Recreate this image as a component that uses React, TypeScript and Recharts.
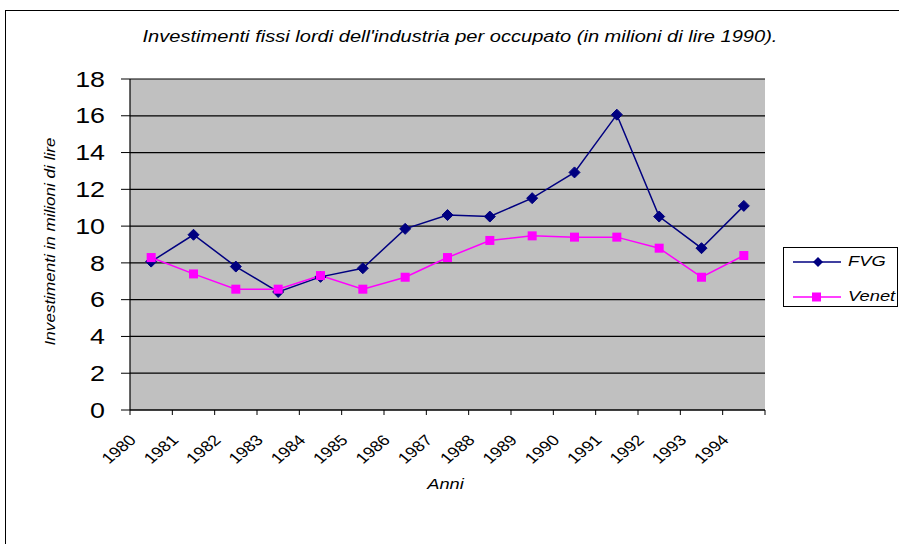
import React from "react";
import {
  LineChart,
  Line,
  XAxis,
  YAxis,
  CartesianGrid,
} from "recharts";

// anni e valori (milioni di lire 1990)
const years = [1980, 1981, 1982, 1983, 1984, 1985, 1986, 1987, 1988, 1989, 1990, 1991, 1992, 1993, 1994];
const fvg = [8.07, 9.53, 7.8, 6.42, 7.24, 7.71, 9.85, 10.6, 10.52, 11.52, 12.92, 16.06, 10.52, 8.8, 11.1];
const venet = [8.29, 7.4, 6.57, 6.57, 7.31, 6.57, 7.22, 8.29, 9.22, 9.47, 9.4, 9.4, 8.8, 7.22, 8.4];
const yTicks = [0, 2, 4, 6, 8, 10, 12, 14, 16, 18];

const FONT = "'Liberation Sans', Arial, sans-serif";
const NAVY = "#000080";
const MAGENTA = "#FF00FF";
// the original's text is drawn wider than Arial, so stretch it a bit
const STRETCH = 1.22;

const W = 899;
const H = 544;
const margin = { top: 79, right: 134, bottom: 54, left: 70 };
const yAxisWidth = 60;
const xAxisHeight = 80;
const band = (W - margin.left - yAxisWidth - margin.right) / years.length;

// numeric x axis so the tick marks sit on the category boundaries
const data = years.map((y, i) => ({
  x: i + 0.5,
  year: y,
  FVG: fvg[i],
  Venet: venet[i],
}));
const boundaryTicks = years.map((_, i) => i).concat(years.length);

function Diamond(props: any) {
  const { cx, cy } = props;
  if (cx == null || cy == null) return null;
  const r = 5.5;
  return (
    <polygon
      points={`${cx},${cy - r} ${cx + r},${cy} ${cx},${cy + r} ${cx - r},${cy}`}
      fill={NAVY}
      stroke={NAVY}
    />
  );
}

function Square(props: any) {
  const { cx, cy } = props;
  if (cx == null || cy == null) return null;
  const s = 4.5;
  return <rect x={cx - s} y={cy - s} width={s * 2} height={s * 2} fill={MAGENTA} />;
}

function YearTick(props: any) {
  const { x, y, payload } = props;
  const idx = payload.value;
  if (idx >= years.length) return null;
  const ax = x + band / 2 - 14;
  const ay = y + 24;
  return (
    <text
      transform={`translate(${ax},${ay}) scale(1.2,1) rotate(-45)`}
      textAnchor="end"
      fontSize={15}
      fontFamily={FONT}
      fill="#000"
    >
      {years[idx]}
    </text>
  );
}

function ValueTick(props: any) {
  const { x, y, payload } = props;
  return (
    <text
      transform={`translate(${x - 14},${y}) scale(${STRETCH},1)`}
      textAnchor="end"
      dominantBaseline="central"
      fontSize={22}
      fontFamily={FONT}
      fill="#000"
    >
      {payload.value}
    </text>
  );
}

function YTitle(props: any) {
  const { viewBox } = props;
  const cx = viewBox.x - 20;
  const cy = viewBox.y + viewBox.height / 2 - 3;
  return (
    <text
      transform={`translate(${cx},${cy}) rotate(-90) scale(${STRETCH},1)`}
      textAnchor="middle"
      dominantBaseline="central"
      fontSize={14}
      fontStyle="italic"
      fontFamily={FONT}
      fill="#000"
    >
      Investimenti in milioni di lire
    </text>
  );
}

function XTitle(props: any) {
  const { viewBox } = props;
  const cx = viewBox.x + viewBox.width / 2 - 2;
  const cy = viewBox.y + 79;
  return (
    <text
      transform={`translate(${cx},${cy}) scale(${STRETCH},1)`}
      textAnchor="middle"
      fontSize={15}
      fontStyle="italic"
      fontFamily={FONT}
      fill="#000"
    >
      Anni
    </text>
  );
}

function LegendBox() {
  const rows = [
    { name: "FVG", color: NAVY, marker: "diamond" },
    { name: "Venet", color: MAGENTA, marker: "square" },
  ];
  return (
    <div
      style={{
        position: "absolute",
        left: 783,
        top: 247,
        width: 115,
        height: 60,
        border: "1px solid #000",
        background: "#fff",
        boxSizing: "border-box",
        overflow: "hidden",
      }}
    >
      {rows.map((r, i) => (
        <div
          key={r.name}
          style={{ position: "absolute", left: 0, top: i === 0 ? 6 : 41, height: 16, width: 120 }}
        >
          <svg width={50} height={16} style={{ position: "absolute", left: 9, top: 0 }}>
            <line x1={0} y1={8} x2={48} y2={8} stroke={r.color} strokeWidth={1.5} />
            {r.marker === "diamond" ? (
              <polygon points="25,3 30,8 25,13 20,8" fill={r.color} />
            ) : (
              <rect x={19} y={3.5} width={9} height={9} fill={r.color} />
            )}
          </svg>
          <span
            style={{
              position: "absolute",
              left: 64,
              top: -2,
              fontFamily: FONT,
              fontStyle: "italic",
              fontSize: 15,
              color: "#000",
              transform: `scaleX(${STRETCH})`,
              transformOrigin: "left center",
              whiteSpace: "nowrap",
            }}
          >
            {r.name}
          </span>
        </div>
      ))}
    </div>
  );
}

export default function App() {
  return (
    <div
      style={{
        position: "absolute",
        left: 0,
        top: 0,
        width: W,
        height: H,
        background: "#fff",
        overflow: "hidden",
      }}
    >
      <div
        style={{
          position: "absolute",
          left: 5,
          top: 10,
          width: 960,
          height: 600,
          border: "1.5px solid #000",
        }}
      />
      <div
        style={{
          position: "absolute",
          left: 0,
          top: 27,
          width: 920,
          lineHeight: "20px",
          textAlign: "center",
          fontFamily: FONT,
          fontStyle: "italic",
          fontSize: 17,
          color: "#000",
          whiteSpace: "nowrap",
          transform: "scaleX(1.18)",
          transformOrigin: "460px center",
        }}
      >
        Investimenti fissi lordi dell'industria per occupato (in milioni di lire 1990).
      </div>
      <div style={{ position: "absolute", left: 0, top: 0 }}>
        <LineChart width={W} height={H} data={data} margin={margin}>
          <CartesianGrid
            fill="#C0C0C0"
            fillOpacity={1}
            stroke="#000"
            strokeWidth={1.2}
            vertical={false}
            horizontalValues={yTicks}
          />
          <XAxis
            xAxisId="top"
            orientation="top"
            type="number"
            dataKey="x"
            domain={[0, years.length]}
            height={0}
            tick={false}
            tickLine={false}
            axisLine={{ stroke: "#808080", strokeWidth: 1.5 }}
          />
          <YAxis
            yAxisId="right"
            orientation="right"
            domain={[0, 18]}
            width={0}
            tick={false}
            tickLine={false}
            axisLine={{ stroke: "#808080", strokeWidth: 1.5 }}
          />
          <XAxis
            type="number"
            dataKey="x"
            domain={[0, years.length]}
            ticks={boundaryTicks}
            interval={0}
            height={xAxisHeight}
            axisLine={{ stroke: "#000", strokeWidth: 1.2 }}
            tickLine={{ stroke: "#000" }}
            tickSize={5}
            tick={<YearTick />}
            label={<XTitle />}
          />
          <YAxis
            domain={[0, 18]}
            ticks={yTicks}
            interval={0}
            width={yAxisWidth}
            axisLine={{ stroke: "#000", strokeWidth: 1.2 }}
            tickLine={{ stroke: "#000" }}
            tickSize={9}
            tick={<ValueTick />}
            label={<YTitle />}
          />
          <Line
            dataKey="FVG"
            name="FVG"
            stroke={NAVY}
            strokeWidth={1.5}
            dot={<Diamond />}
            activeDot={false}
            isAnimationActive={false}
          />
          <Line
            dataKey="Venet"
            name="Venet"
            stroke={MAGENTA}
            strokeWidth={1.5}
            dot={<Square />}
            activeDot={false}
            isAnimationActive={false}
          />
        </LineChart>
      </div>
      <LegendBox />
    </div>
  );
}
